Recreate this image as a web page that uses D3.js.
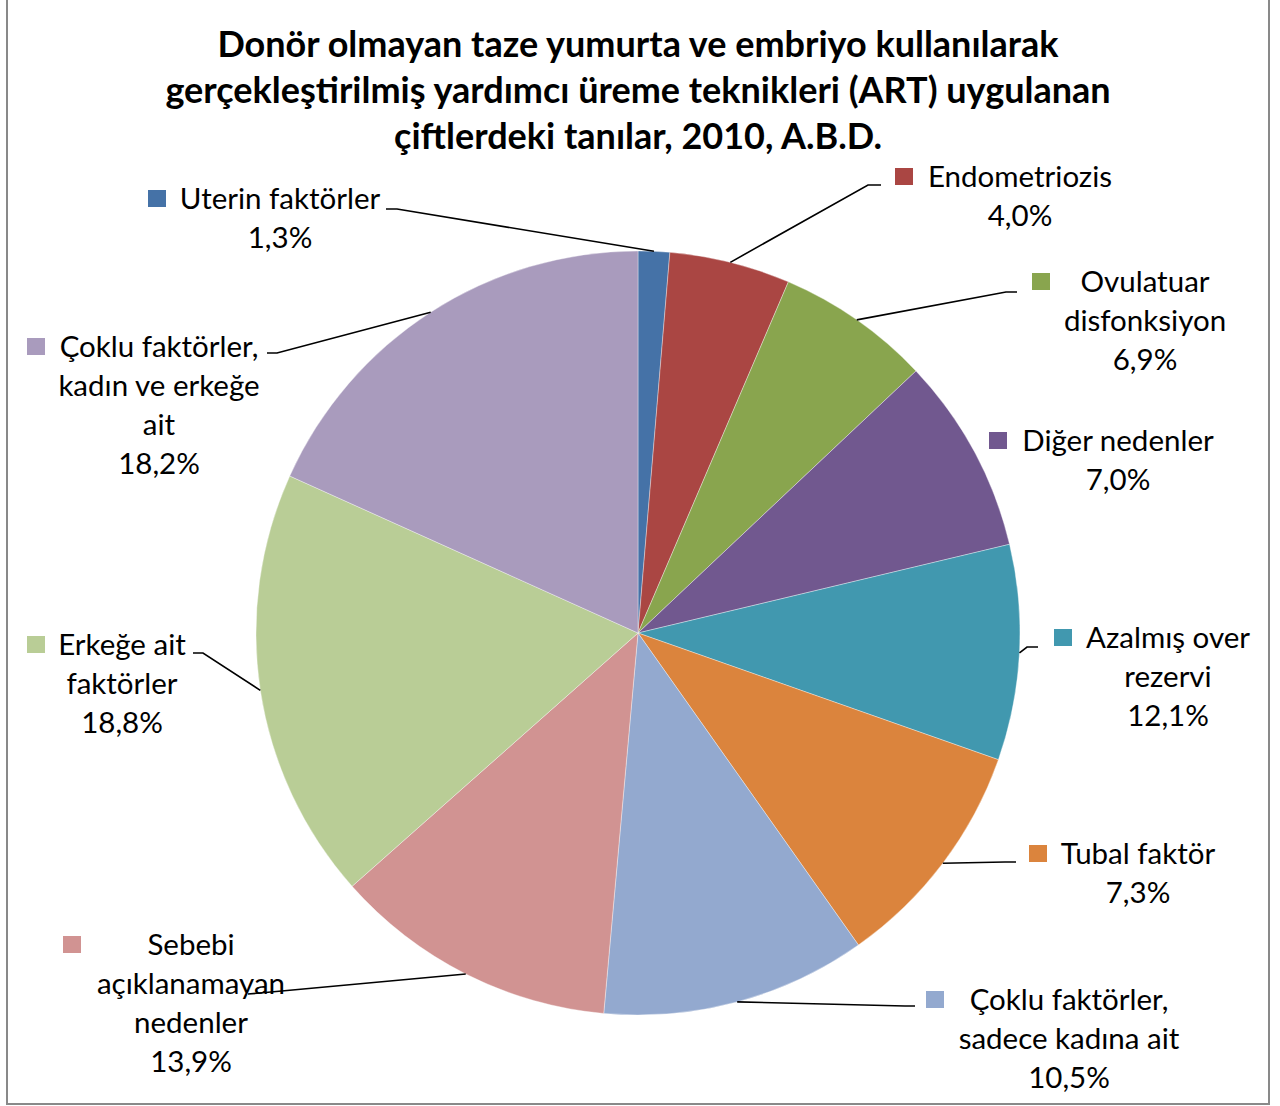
<!DOCTYPE html>
<html>
<head>
<meta charset="utf-8">
<script src="https://cdn.jsdelivr.net/npm/d3@7"></script>
<style>
  body { margin: 0; background: #fff; }
  svg text { font-family: Lato, "Open Sans", sans-serif; fill: #000; }
</style>
</head>
<body>
<div id="chart"></div>
<script>
// categories, in drawing order (clockwise from 12 o'clock)
const categories = [
    "Uterin faktörler",
    "Endometriozis",
    "Ovulatuar disfonksiyon",
    "Diğer nedenler",
    "Azalmış over rezervi",
    "Tubal faktör",
    "Çoklu faktörler, sadece kadına ait",
    "Sebebi açıklanamayan nedenler",
    "Erkeğe ait faktörler",
    "Çoklu faktörler, kadın ve erkeğe ait"
];
// how the label text is broken into lines
const labelLines = [
    ["Uterin faktörler"],
    ["Endometriozis"],
    ["Ovulatuar", "disfonksiyon"],
    ["Diğer nedenler"],
    ["Azalmış over", "rezervi"],
    ["Tubal faktör"],
    ["Çoklu faktörler,", "sadece kadına ait"],
    ["Sebebi", "açıklanamayan", "nedenler"],
    ["Erkeğe ait", "faktörler"],
    ["Çoklu faktörler,", "kadın ve erkeğe", "ait"]
];
// slice sizes as drawn in the picture (%)
const sliceShare = [1.33, 5.11, 6.53, 8.30, 9.11, 9.83, 11.22, 12.03, 18.28, 18.26];
// percentages printed in the labels
const percentText = ["1,3%", "4,0%", "6,9%", "7,0%", "12,1%", "7,3%", "10,5%", "13,9%", "18,8%", "18,2%"];
const colors = ["#4572A7", "#AA4643", "#89A54E", "#71588F", "#4198AF",
                "#DB843D", "#93A9CF", "#D19392", "#B9CD96", "#A99BBD"];

const titleLines = [
    "Donör olmayan taze yumurta ve embriyo kullanılarak",
    "gerçekleştirilmiş yardımcı üreme teknikleri (ART) uygulanan",
    "çiftlerdeki tanılar, 2010, A.B.D."
];

// label layout: [center x of text, first baseline, key box x]
const labelPos = [
    [280, 209, 148], [1020, 187, 895], [1145, 292, 1032], [1118, 451, 989], [1168, 648, 1054],
    [1138, 864, 1029], [1069, 1010, 926], [191, 955, 63], [122, 655, 27], [159, 357, 27]
];
// leader lines: elbow point and end point (null = no leader)
const leaderPts = [
    [[397, 209], [386, 209]],
    [[868, 185], [881, 185]],
    [[1006, 292], [1017, 292]],
    null,
    [[1027, 647], [1038, 647]],
    [[1005, 862], [1016, 862]],
    [[905, 1006], [915, 1006]],
    [[260, 993], [248, 994]],
    [[203, 653], [193, 653]],
    [[277, 353], [267, 353]]
];

const width = 1280, height = 1106;
const cx = 638, cy = 633, radius = 382;
const fontSize = 29.5, lineStep = 39;

const svg = d3.select("#chart").append("svg")
    .attr("width", width)
    .attr("height", height);

// outer frame (top edge is cropped off)
svg.append("rect")
    .attr("x", 7).attr("y", -10)
    .attr("width", 1262).attr("height", 1114)
    .attr("fill", "#fff")
    .attr("stroke", "#898989")
    .attr("stroke-width", 2);

svg.append("text")
    .attr("text-anchor", "middle")
    .attr("font-weight", "bold")
    .attr("font-size", 36)
    .selectAll("tspan")
    .data(titleLines)
    .join("tspan")
    .attr("x", cx)
    .attr("y", (d, i) => 57 + i * 46)
    .text(d => d);

const pie = d3.pie().sort(null).value(d => d);
const arcs = pie(sliceShare);
const arc = d3.arc().innerRadius(0).outerRadius(radius);

const g = svg.append("g").attr("transform", `translate(${cx},${cy})`);
g.selectAll("path")
    .data(arcs)
    .join("path")
    .attr("d", arc)
    .attr("fill", (d, i) => colors[i])
    .attr("stroke", "#fff")
    .attr("stroke-width", 0.6)
    .attr("stroke-opacity", 0.6);

// leader lines start on the rim at the slice mid angle
const line = d3.line();
arcs.forEach(function (d, i) {
    if (!leaderPts[i]) return;
    const a = (d.startAngle + d.endAngle) / 2;
    const start = [cx + radius * Math.sin(a), cy - radius * Math.cos(a)];
    svg.append("path")
        .attr("d", line([start, leaderPts[i][0], leaderPts[i][1]]))
        .attr("fill", "none")
        .attr("stroke", "#000")
        .attr("stroke-width", 1.6);
});

// labels
categories.forEach(function (name, i) {
    const p = labelPos[i];
    const lines = labelLines[i].concat([percentText[i]]);
    svg.append("rect")
        .attr("x", p[2]).attr("y", p[1] - 19)
        .attr("width", 18).attr("height", 17)
        .attr("fill", colors[i]);
    svg.append("text")
        .attr("text-anchor", "middle")
        .attr("font-size", fontSize)
        .selectAll("tspan")
        .data(lines)
        .join("tspan")
        .attr("x", p[0])
        .attr("y", (d, j) => p[1] + j * lineStep)
        .text(d => d);
});
</script>
</body>
</html>
